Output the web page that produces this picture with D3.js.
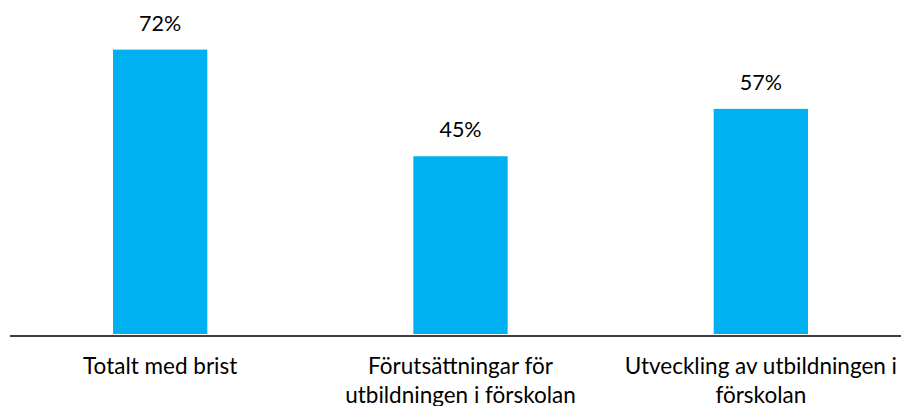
<!DOCTYPE html>
<meta charset="utf-8">
<head>
    <title>Brist</title>
    <script src="https://d3js.org/d3.v7.min.js"></script>
    <style>
        body { margin: 0; background: #ffffff; }
        text { font-family: Lato, "Open Sans", sans-serif; fill: #000; }
    </style>
</head>
<body>
<div id="my_dataviz"></div>
<script>

// data
var categories = ["Totalt med brist", "Förutsättningar för utbildningen i förskolan", "Utveckling av utbildningen i förskolan"];
var values = [72, 45, 57];
var valueLabels = ["72%", "45%", "57%"];

var width = 901,
    height = 406;

var svg = d3.select("#my_dataviz")
    .append("svg")
    .attr("width", width)
    .attr("height", height);

// scales
var x = d3.scaleBand()
    .domain(categories)
    .range([10, 911])
    .paddingInner(0.686)
    .paddingOuter(0.343);

var y = d3.scaleLinear()
    .domain([0, 80])
    .range([334, 18]);

// bars
svg.selectAll("rect.bar")
    .data(categories)
    .enter()
    .append("rect")
        .attr("class", "bar")
        .attr("x", function(d) { return x(d); })
        .attr("y", function(d, i) { return y(values[i]); })
        .attr("width", x.bandwidth())
        .attr("height", function(d, i) { return y(0) - y(values[i]); })
        .style("fill", "#00b0f0");

// value labels
svg.selectAll("text.val")
    .data(categories)
    .enter()
    .append("text")
        .attr("class", "val")
        .attr("x", function(d) { return x(d) + x.bandwidth() / 2; })
        .attr("y", function(d, i) { return y(values[i]) - 19; })
        .attr("text-anchor", "middle")
        .style("font-size", "21.5px")
        .text(function(d, i) { return valueLabels[i]; });

// x axis (line only)
var xAxis = svg.append("g")
    .attr("transform", "translate(0,336)")
    .call(d3.axisBottom(x).tickSize(0).tickPadding(0));
xAxis.select(".domain")
    .attr("d", "M10,0H901")
    .attr("stroke", "#000")
    .attr("stroke-width", 1.6);
xAxis.selectAll(".tick text")
    .attr("y", 38)
    .attr("dy", 0)
    .style("font-size", "22.5px")
    .style("font-family", "Lato, 'Open Sans', sans-serif")
    .call(wrap, 290);

// wrap long category labels
function wrap(texts, w) {
    texts.each(function() {
        var text = d3.select(this),
            words = text.text().split(/\s+/),
            line = [],
            lineNo = 0,
            yy = text.attr("y");
        text.text(null);
        var tspan = text.append("tspan").attr("x", 0).attr("y", yy);
        words.forEach(function(word) {
            line.push(word);
            tspan.text(line.join(" "));
            if (tspan.node().getComputedTextLength() > w && line.length > 1) {
                line.pop();
                tspan.text(line.join(" "));
                line = [word];
                lineNo++;
                tspan = text.append("tspan").attr("x", 0).attr("y", +yy + lineNo * 28.5).text(word);
            }
        });
    });
}
</script>
</body>
</html>
